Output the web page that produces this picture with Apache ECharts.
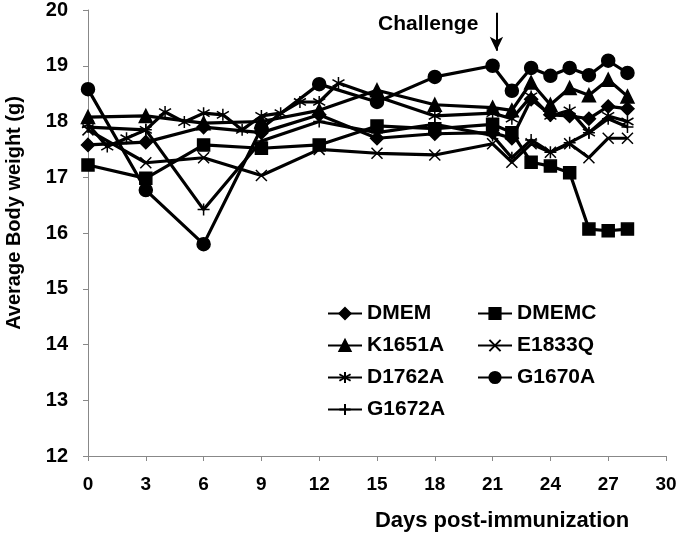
<!DOCTYPE html>
<html><head><meta charset="utf-8">
<script src="https://cdn.jsdelivr.net/npm/echarts@6/dist/echarts.min.js"></script>
<style>html,body{margin:0;padding:0;background:#fff}#c{width:680px;height:534px}</style>
</head><body><div id="c"></div>
<script>
const xTicks = [0,3,6,9,12,15,18,21,24,27,30];
const days = [0,3,6,9,12,15,18,21,22,23,24,25,26,27,28];
const daysD1762A = [0,1,2,3,4,5,6,7,8,9,10,11,12,13,15,18,21,22,23,24,25,26,27,28];
const DMEM    = [17.58,17.63,17.90,17.80,18.12,17.70,17.78,17.80,17.70,18.40,18.12,18.10,18.05,18.27,18.23];
const DMEMC   = [17.22,16.98,17.58,17.52,17.58,17.92,17.87,17.95,17.80,17.27,17.20,17.08,16.07,16.04,16.07];
const K1651A  = [18.08,18.10,17.97,18.00,18.20,18.56,18.30,18.25,18.20,18.70,18.30,18.60,18.47,18.75,18.45];
const E1833Q  = [17.85,17.26,17.35,17.03,17.50,17.43,17.40,17.60,17.27,17.60,17.45,17.60,17.35,17.70,17.70];
const D1762A  = [17.95,17.55,17.70,17.85,18.17,17.99,18.15,18.12,17.85,18.10,18.15,18.35,18.35,18.69,18.45,18.10,18.15,18.05,18.45,18.10,18.20,17.80,18.10,18.00];
const G1670A  = [18.58,16.77,15.80,17.88,18.67,18.35,18.80,19.00,18.55,18.96,18.82,18.96,18.83,19.09,18.87];
const G1672A  = [17.90,17.85,16.42,17.65,18.00,17.80,17.95,17.75,17.35,17.67,17.45,17.62,17.80,18.05,17.90];
const legendCol1 = ['DMEM','K1651A','D1762A','G1672A'];
const legendCol2 = ['DMEMC','E1833Q','G1670A'];
const challengeDay = 21;

const pair = (xs, ys) => xs.map((x,i)=>[x, ys[i]]);
const font = '"Liberation Sans", Arial, sans-serif';
const XPATH = 'path://M0,0L10,10M10,0L0,10';
const STAR = 'path://M5,0L5,10M0,2.1L10,7.9M10,2.1L0,7.9';
const PLUS = 'path://M5,0L5,10M0,5L10,5';

function ser(name, data, symbol, size, extra){
  return Object.assign({
    name, type:'line', data, symbol, symbolSize:size,
    lineStyle:{color:'#000', width:3.2},
    itemStyle:{color:'#000', borderColor:'#000', borderWidth:1.5},
    emphasis:{disabled:true}, animation:false
  }, extra||{});
}
function leg(id, names, left){
  return {id, data:names, orient:'vertical', align:'left', left:left, top:303, padding:0,
    itemWidth:34, itemHeight:14, itemGap:11,
    textStyle:{color:'#000', fontFamily:font, fontWeight:'bold', fontSize:21}};
}

const chart = echarts.init(document.getElementById('c'), null, {renderer:'canvas'});
chart.setOption({
  animation:false,
  grid:{left:88, right:14, top:10, bottom:78},
  xAxis:{type:'value', min:0, max:30, interval:3,
    axisLine:{lineStyle:{color:'#888', width:1}},
    axisTick:{show:true, length:5, lineStyle:{color:'#888'}},
    splitLine:{show:false},
    axisLabel:{color:'#000', fontFamily:font, fontWeight:'bold', fontSize:19, margin:19,
      formatter: v => xTicks.includes(v) ? String(v) : ''}
  },
  yAxis:{type:'value', min:12, max:20, interval:1,
    axisLine:{show:true, lineStyle:{color:'#888', width:1}},
    axisTick:{show:true, length:5, lineStyle:{color:'#888'}},
    splitLine:{show:false},
    axisLabel:{color:'#000', fontFamily:font, fontWeight:'bold', fontSize:20, margin:20}
  },
  legend:[leg('l1', legendCol1, 327), leg('l2', legendCol2, 477)],
  graphic:[
    {type:'text', left:378, top:14,
      style:{text:'Challenge', fill:'#000', font:'bold 21px "Liberation Sans", Arial, sans-serif'}},
    {type:'text', x:14, y:213, rotation:Math.PI/2,
      style:{text:'Average Body weight (g)', fill:'#000', align:'center', verticalAlign:'middle',
        font:'bold 20px "Liberation Sans", Arial, sans-serif'}},
    {type:'text', x:502, y:521,
      style:{text:'Days post-immunization', fill:'#000', align:'center', verticalAlign:'middle',
        font:'bold 22px "Liberation Sans", Arial, sans-serif'}}
  ],
  series:[
    ser('DMEM', pair(days,DMEM), 'diamond', 13),
    ser('DMEMC', pair(days,DMEMC), 'rect', 12),
    ser('K1651A', pair(days,K1651A), 'triangle', 13),
    ser('E1833Q', pair(days,E1833Q), XPATH, 11),
    ser('D1762A', pair(daysD1762A,D1762A), STAR, 12),
    ser('G1670A', pair(days,G1670A), 'circle', 13, {
      markLine:{silent:true, symbol:['none','arrow'], symbolSize:[10,14],
        lineStyle:{color:'#000', width:2, type:'solid'}, label:{show:false},
        data:[[{coord:[challengeDay+0.2,19.95]},{coord:[challengeDay+0.2,19.27]}]]}
    }),
    ser('G1672A', pair(days,G1672A), PLUS, 12)
  ]
});
</script></body></html>
